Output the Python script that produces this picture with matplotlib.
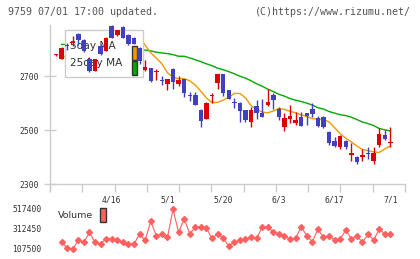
import numpy as np
import matplotlib
matplotlib.use("Agg")
import matplotlib.pyplot as plt
from matplotlib.patches import Rectangle

# candles, 04/03 .. 07/01 (open, high, low, close)
opens = [2778, 2764, 2815, 2825, 2856, 2836, 2762, 2720, 2811, 2794,
         2885, 2853, 2881, 2854, 2843, 2806, 2723, 2729, 2715, 2684,
         2670, 2727, 2670, 2688, 2630, 2631, 2574, 2542, 2625, 2675,
         2707, 2648, 2602, 2601, 2574, 2530, 2589, 2564, 2594, 2631,
         2577, 2512, 2540, 2527, 2547, 2562, 2579, 2544, 2549, 2493,
         2460, 2438, 2460, 2406, 2401, 2399, 2415, 2386, 2446, 2483, 2453]
highs = [2782, 2808, 2823, 2851, 2860, 2838, 2771, 2764, 2819, 2845,
         2890, 2872, 2885, 2855, 2845, 2808, 2759, 2731, 2727, 2700,
         2690, 2729, 2700, 2690, 2641, 2641, 2579, 2603, 2638, 2709,
         2710, 2650, 2619, 2603, 2576, 2584, 2611, 2614, 2653, 2636,
         2585, 2564, 2594, 2567, 2567, 2564, 2599, 2552, 2554, 2495,
         2474, 2480, 2462, 2451, 2403, 2429, 2436, 2436, 2507, 2500, 2512]
lows = [2776, 2762, 2796, 2811, 2816, 2789, 2717, 2718, 2777, 2792,
        2840, 2851, 2840, 2815, 2818, 2746, 2721, 2678, 2685, 2668,
        2648, 2653, 2663, 2621, 2609, 2592, 2510, 2540, 2599, 2651,
        2626, 2614, 2581, 2530, 2530, 2510, 2540, 2548, 2591, 2577,
        2537, 2495, 2527, 2520, 2515, 2520, 2549, 2510, 2507, 2446,
        2439, 2431, 2431, 2386, 2374, 2386, 2391, 2374, 2438, 2463, 2436]
closes = [2780, 2806, 2813, 2827, 2833, 2794, 2720, 2762, 2781, 2843,
          2843, 2870, 2842, 2820, 2820, 2756, 2733, 2684, 2717, 2682,
          2688, 2680, 2685, 2638, 2628, 2594, 2534, 2601, 2627, 2707,
          2636, 2616, 2600, 2571, 2537, 2574, 2562, 2549, 2604, 2611,
          2549, 2544, 2552, 2537, 2517, 2554, 2559, 2515, 2512, 2453,
          2441, 2478, 2436, 2416, 2380, 2409, 2413, 2414, 2485, 2466, 2456]

ma5 = [np.nan, 2764, 2780, 2795, 2810, 2815, 2797, 2787, 2778, 2780,
       2790, 2820, 2836, 2844, 2839, 2845, 2815, 2787, 2767, 2746,
       2713, 2696, 2691, 2691, 2683, 2667, 2644, 2619, 2602, 2603,
       2611, 2622, 2636, 2636, 2620, 2591, 2577, 2567, 2564, 2571,
       2580, 2577, 2570, 2564, 2557, 2550, 2543, 2540, 2540, 2530,
       2509, 2487, 2470, 2456, 2441, 2428, 2424, 2419, 2417, 2430, 2441]
ma25 = [np.nan, 2818, 2817, 2816, 2815, 2814, 2812, 2811, 2810, 2808,
        2807, 2806, 2804, 2802, 2800, 2799, 2797, 2794, 2789, 2786,
        2784, 2780, 2774, 2774, 2768, 2761, 2754, 2746, 2739, 2730,
        2724, 2717, 2709, 2700, 2693, 2683, 2672, 2663, 2652, 2643,
        2633, 2626, 2617, 2611, 2606, 2600, 2593, 2583, 2578, 2569,
        2563, 2557, 2554, 2548, 2539, 2530, 2524, 2517, 2506, 2501, 2497]

volume = [np.nan, 176000, 121000, 104000, 197000, 176000, 277000, 176000, 162000, 213000,
          213000, 197000, 176000, 162000, 162000, 258000, 197000, 391000, 244000, 264000,
          227000, 514000, 279000, 418000, 264000, 330000, 330000, 319000, 217000, 261000,
          217000, 138000, 176000, 197000, 213000, 227000, 217000, 330000, 336000, 279000,
          264000, 244000, 207000, 217000, 336000, 244000, 182000, 309000, 227000, 241000,
          200000, 207000, 302000, 210000, 241000, 176000, 258000, 200000, 309000, 264000, 258000]

date_pos = [10, 20, 30, 40, 50, 60]
date_labels = ["4/16", "5/1", "5/20", "6/3", "6/17", "7/1"]
price_ticks = [2300, 2500, 2700]
vol_ticks = [107500, 312450, 517400]

RED = "#dd0000"
BLUE = "#4040c0"
ORANGE = "#f39800"
GREEN = "#00aa00"
VOLC = "#ff6060"
GRID = "#cccccc"
TXT = "#333333"
MONO = "DejaVu Sans Mono"

W, H = 420, 259
fig = plt.figure(figsize=(4.2, 2.59), dpi=100)

def box(l, t, r, b):
    return [l / W, (H - b) / H, (r - l) / W, (b - t) / H]

ax = fig.add_axes(box(50, 25, 405, 184))
vx = fig.add_axes(box(50, 203, 405, 254))

n = len(closes)
x = np.arange(n)
xlim = (-1.077, 62.63)

# moving averages
ax.plot(x, ma25, color=GREEN, lw=1, zorder=1)
ax.plot(x, ma5, color=ORANGE, lw=1, zorder=1)

# legend box (above MA lines, below candles)
ax.add_patch(Rectangle((1.6, 2696), 14.0, 174, facecolor="white",
                       edgecolor=GRID, lw=1, zorder=2))
ax.text(2.5, 2811, "5day MA", fontsize=7.6, color=TXT, va="center", zorder=3)
ax.text(2.5, 2748, "25day MA", fontsize=7.6, color=TXT, va="center", zorder=3)
ax.add_patch(Rectangle((13.6, 2760), 1.0, 53, facecolor=ORANGE, edgecolor=TXT, lw=1, zorder=3))
ax.add_patch(Rectangle((13.6, 2705), 1.0, 53, facecolor=GREEN, edgecolor=TXT, lw=1, zorder=3))

# candles
o = np.array(opens, float)
c = np.array(closes, float)
up = c >= o
cols = np.where(up, RED, BLUE)
ax.vlines(x, lows, highs, colors=cols, lw=1, zorder=4)
body = np.maximum(np.abs(c - o), 3.7)
ax.bar(x, body, bottom=np.minimum(o, c), width=0.8, color=cols, lw=0, zorder=5)

ax.set_xlim(*xlim)
ax.set_ylim(2300, 2890)
for s in ax.spines.values():
    s.set_visible(False)
ax.plot([0, 0], [-6 / 159, 1], transform=ax.transAxes, color=GRID, lw=1, clip_on=False)
ax.plot([0, 1], [0, 0], transform=ax.transAxes, color=GRID, lw=1, clip_on=False)
ax.set_yticks(price_ticks)
ax.set_yticklabels([str(v) for v in price_ticks], fontsize=5.8, family=MONO, color=TXT)
ax.tick_params(axis="y", direction="inout", length=8, width=1, color=GRID, pad=4)
ax.set_xticks(date_pos)
ax.set_xticklabels(date_labels, fontsize=5.8, family=MONO, color=TXT)
ax.tick_params(axis="x", which="major", length=0, pad=8)
ax.set_xticks(np.linspace(xlim[0], xlim[1], 12), minor=True)
ax.tick_params(axis="x", which="minor", direction="out", length=6, width=1, color=GRID)

# volume
vx.plot(x, volume, color=VOLC, lw=0.8, marker="D", ms=3.0, mec=VOLC, mfc=VOLC, zorder=1)
vx.add_patch(Rectangle((0.5, 390000), 9.5, 250000, facecolor="white", lw=0, zorder=2))
vx.text(0.3, 450000, "Volume", fontsize=6.8, color=TXT, va="center", zorder=3)
vx.add_patch(Rectangle((7.9, 380000), 1.1, 150000, facecolor=VOLC, edgecolor=TXT, lw=1, zorder=3))
vx.set_xlim(*xlim)
vx.set_ylim(107500 - 5 * 10247.5, 107500 + 46 * 10247.5)
for s in vx.spines.values():
    s.set_visible(False)
vx.set_xticks([])
vx.set_yticks(vol_ticks)
vx.set_yticklabels([str(v) for v in vol_ticks], fontsize=5.8, family=MONO, color=TXT)
vx.tick_params(axis="y", length=0, pad=6)

fig.text(8 / W, 1 - 12 / H, "9759 07/01 17:00 updated.", fontsize=7.2, family=MONO,
         color="#555555", va="center")
fig.text(411 / W, 1 - 12 / H, "(C)https://www.rizumu.net/", fontsize=7.2, family=MONO,
         color="#555555", va="center", ha="right")

fig.savefig("out.png", dpi=100)
